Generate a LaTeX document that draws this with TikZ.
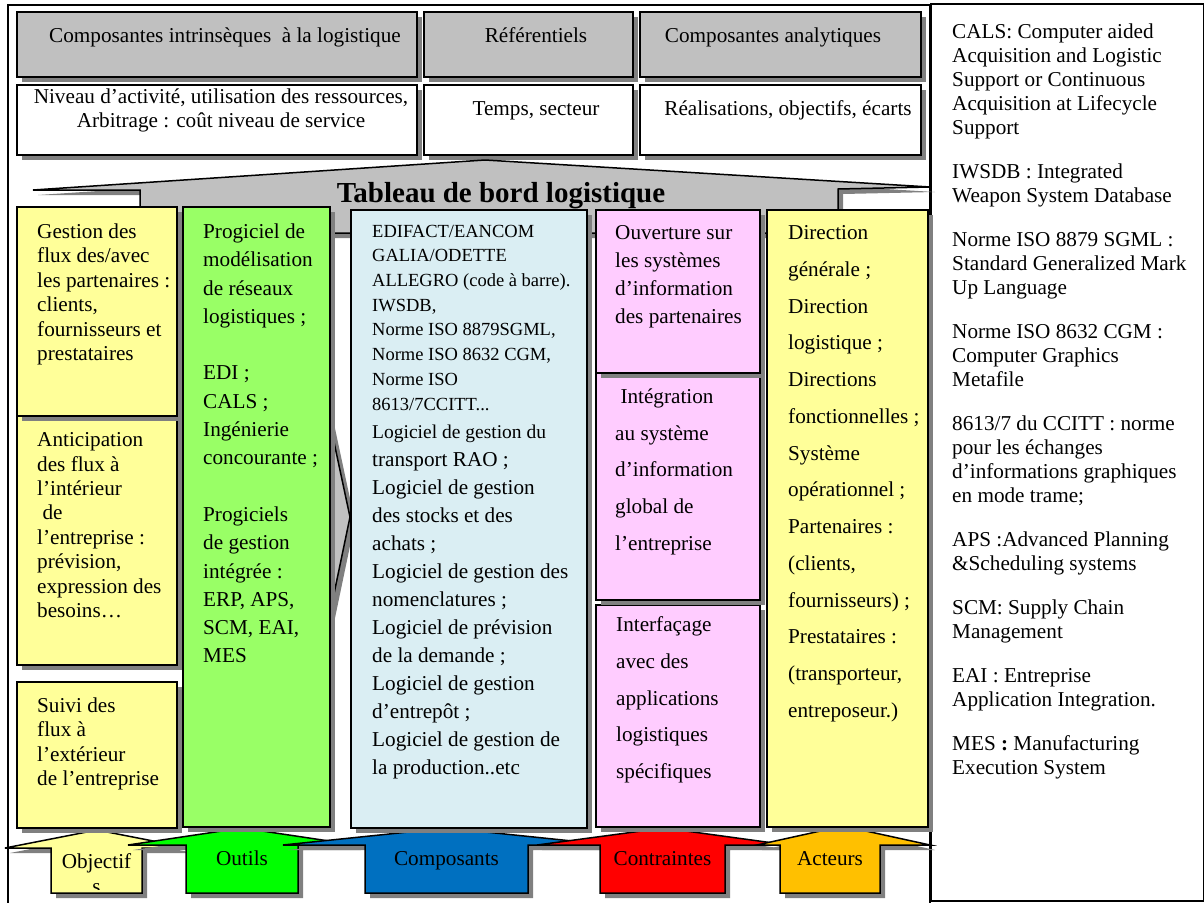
\documentclass[tikz,border=0pt]{standalone}
\usepackage{fontspec}
\setmainfont{Liberation Serif}
\usetikzlibrary{shadows}

\definecolor{headgray}{HTML}{C0C0C0}
\definecolor{shadowgray}{HTML}{808080}
\definecolor{paleyellow}{HTML}{FFFF99}
\definecolor{lightgreen}{HTML}{99FF66}
\definecolor{paleblue}{HTML}{DAEEF3}
\definecolor{palepink}{HTML}{FFCCFF}
\definecolor{arrowgreen}{HTML}{00FF00}
\definecolor{arrowblue}{HTML}{0070C0}
\definecolor{arrowred}{HTML}{FF0000}
\definecolor{arroworange}{HTML}{FFC000}

\begin{document}
\begin{tikzpicture}[
    x=1pt, y=-1pt,
    grey shadow/.style = {general shadow={fill=shadowgray, shadow xshift=5pt, shadow yshift=-5pt}},
    box/.style = {draw, line width=1.5pt, inner sep=0pt, outer sep=0pt, anchor=north west, grey shadow},
    col text/.style = {anchor=north west, inner sep=0pt, align=left, font=\fontsize{21.2}{#1}\selectfont},
    col text/.default = 24.4,
    head text/.style = {anchor=base, inner sep=0pt, font=\fontsize{21.2}{24}\selectfont}
]

\useasboundingbox (0,0) rectangle (1204,902);

% --- CADRES ---
\draw[line width=1.5pt] (8,5) rectangle (930,910);
\node[draw, line width=1.5pt, inner sep=0pt, anchor=north west, minimum width=273, minimum height=897] (glossaire) at (930,3) {};

% --- EN-TETES ---
\foreach \nm/\xa/\bw/\tx/\txt in {
    intrinseques/17/400/225/{Composantes intrinsèques\ \ à la logistique},
    referentiels/424/209/536/Référentiels,
    analytiques/640/281/773/Composantes analytiques%
} {
    \node[box, fill=headgray, minimum width=\bw, minimum height=65] (\nm) at (\xa,12) {};
    \node[head text] (\nm-txt) at (\tx,42.5) {\txt};
}

% valeurs sous les en-tetes
\node[box, fill=white, minimum width=400, minimum height=70] (niveau) at (17,85) {};
\node[box, fill=white, minimum width=209, minimum height=70] (temps) at (424,85) {};
\node[box, fill=white, minimum width=281, minimum height=70] (realisations) at (640,85) {};

\node[head text, anchor=north, align=center] (niveau-txt) at (221,88.5) {Niveau d’activité, utilisation des ressources,\\Arbitrage : coût niveau de service};
\node[head text] (temps-txt) at (536,115) {Temps, secteur};
\node[head text] (realisations-txt) at (788,115) {Réalisations, objectifs, écarts};

% --- TABLEAU DE BORD (grande fleche) ---
\path[fill=headgray, draw, line width=1.5pt, grey shadow]
    (140,233) -- (140,190) -- (33,190) -- (485,160) -- (930,187) -- (838,189) -- (838,233) -- cycle;
\node[anchor=base, inner sep=0pt, font=\fontsize{29}{32}\selectfont\bfseries] (tableau) at (501,202) {Tableau de bord logistique};

% pointe entre outils et composants
\path[fill=headgray, draw, line width=1.5pt, grey shadow] (325,400) -- (350,517) -- (325,637) -- cycle;

% --- FLECHES DU BAS ---
% nom/couleur/pointe g./corps g./sommet/corps d./pointe d./y sommet/y epaule/y texte/texte
\foreach \nm/\clr/\lt/\bl/\px/\br/\rt/\pk/\sy/\ty/\txt in {
    objectifs/paleyellow/5/51/97/142/189/830/848/853.5/{Objectif\\s},
    outils/arrowgreen/128/186/242/298/356/828/845/851/Outils,
    composants/arrowblue/283/365/447/528/611/828/845/851/Composants,
    contraintes/arrowred/537/600/664/725/788/828/845/851/Contraintes,
    acteurs/arroworange/757/780/843/880/930/826/845/851/Acteurs%
} {
    \path[fill=\clr, draw, line width=1.5pt, grey shadow]
        (\bl,893) -- (\bl,\sy) -- (\lt,\sy) -- (\px,\pk) -- (\rt,\sy) -- (\br,\sy) -- (\br,893) -- cycle;
    \begin{scope}
        \clip (\bl,\sy) rectangle (\br,889);
        \node[col text, anchor=north, align=center] (\nm) at (\bl/2+\br/2,\ty) {\txt};
    \end{scope}
}

% --- COLONNES ---
% objectifs
\node[box, fill=paleyellow, minimum width=160, minimum height=146] (suivi) at (17,682) {};
\node[box, fill=paleyellow, minimum width=160, minimum height=249] (anticipation) at (17,416) {};
\node[box, fill=paleyellow, minimum width=160, minimum height=209] (gestion) at (17,207) {};
% outils
\node[box, fill=lightgreen, minimum width=147, minimum height=620] (progiciels) at (183,207) {};
% composants
\node[box, fill=paleblue, minimum width=236, minimum height=618] (normes) at (351,210) {};
% contraintes
\node[box, fill=palepink, minimum width=164, minimum height=222] (interfacage) at (596,605) {};
\node[box, fill=palepink, minimum width=164, minimum height=227] (integration) at (596,373) {};
\node[box, fill=palepink, minimum width=164, minimum height=163] (ouverture) at (596,210) {};
% acteurs
\node[box, fill=paleyellow, minimum width=161, minimum height=617] (directions) at (767,210) {};

% --- TEXTES DES COLONNES ---
\node[col text] (gestion-txt) at (37,223.5) {Gestion des\\flux des/avec\\les partenaires :\\clients,\\fournisseurs et\\prestataires};
\node[col text] (anticipation-txt) at (37,432.5) {Anticipation\\des flux à\\l’intérieur\\\ de\\l’entreprise :\\prévision,\\expression des\\besoins…};
\node[col text] (suivi-txt) at (37,697.5) {Suivi des\\flux à\\l’extérieur\\de l’entreprise};

\node[col text=28.3] (progiciels-txt) at (203,223.5) {Progiciel de\\modélisation\\de réseaux\\logistiques ;\\[28.3pt]EDI ;\\CALS ;\\Ingénierie\\concourante ;\\[28.3pt]Progiciels\\de gestion\\intégrée :\\ERP, APS,\\SCM, EAI,\\MES};

\node[col text, font=\fontsize{18.5}{24.7}\selectfont] (normes-txt) at (372,224.7) {EDIFACT/EANCOM\\GALIA/ODETTE\\ALLEGRO (code à barre).\\IWSDB,\\Norme ISO 8879SGML,\\Norme ISO 8632 CGM,\\Norme ISO\\8613/7CCITT...};
\node[col text=28] (logiciels-txt) at (372,424.7) {{\fontsize{19.5}{28}\selectfont Logiciel de gestion du}\\transport RAO ;\\Logiciel de gestion\\des stocks et des\\achats ;\\Logiciel de gestion des\\nomenclatures ;\\Logiciel de prévision\\de la demande ;\\Logiciel de gestion\\d’entrepôt ;\\Logiciel de gestion de\\la production..etc};

\node[col text=28] (ouverture-txt) at (615,225.5) {Ouverture sur\\les systèmes\\d’information\\des partenaires};
\node[col text=36.7] (integration-txt) at (615,388.5) {\ Intégration\\au système\\d’information\\global de\\l’entreprise};
\node[col text=36.7] (interfacage-txt) at (616,616.5) {Interfaçage\\avec des\\applications\\logistiques\\spécifiques};

\node[col text=36.75] (directions-txt) at (788,225.5) {Direction\\générale ;\\Direction\\logistique ;\\Directions\\fonctionnelles ;\\Système\\opérationnel ;\\Partenaires :\\(clients,\\fournisseurs) ;\\Prestataires :\\(transporteur,\\entreposeur.)};

% --- GLOSSAIRE ---
\node[col text=24] (glossaire-txt) at (952,24) {CALS: Computer aided\\Acquisition and Logistic\\Support or Continuous\\Acquisition at Lifecycle\\Support\\[20pt]IWSDB : Integrated\\Weapon System Database\\[20pt]Norme ISO 8879 SGML :\\Standard Generalized Mark\\Up Language\\[20pt]Norme ISO 8632 CGM :\\Computer Graphics\\Metafile\\[20pt]8613/7 du CCITT : norme\\pour les échanges\\d’informations graphiques\\en mode trame;\\[20pt]APS :Advanced Planning\\\&Scheduling systems\\[20pt]SCM: Supply Chain\\Management\\[20pt]EAI : Entreprise\\Application Integration.\\[20pt]MES \textbf{:} Manufacturing\\Execution System};

\end{tikzpicture}
\end{document}
